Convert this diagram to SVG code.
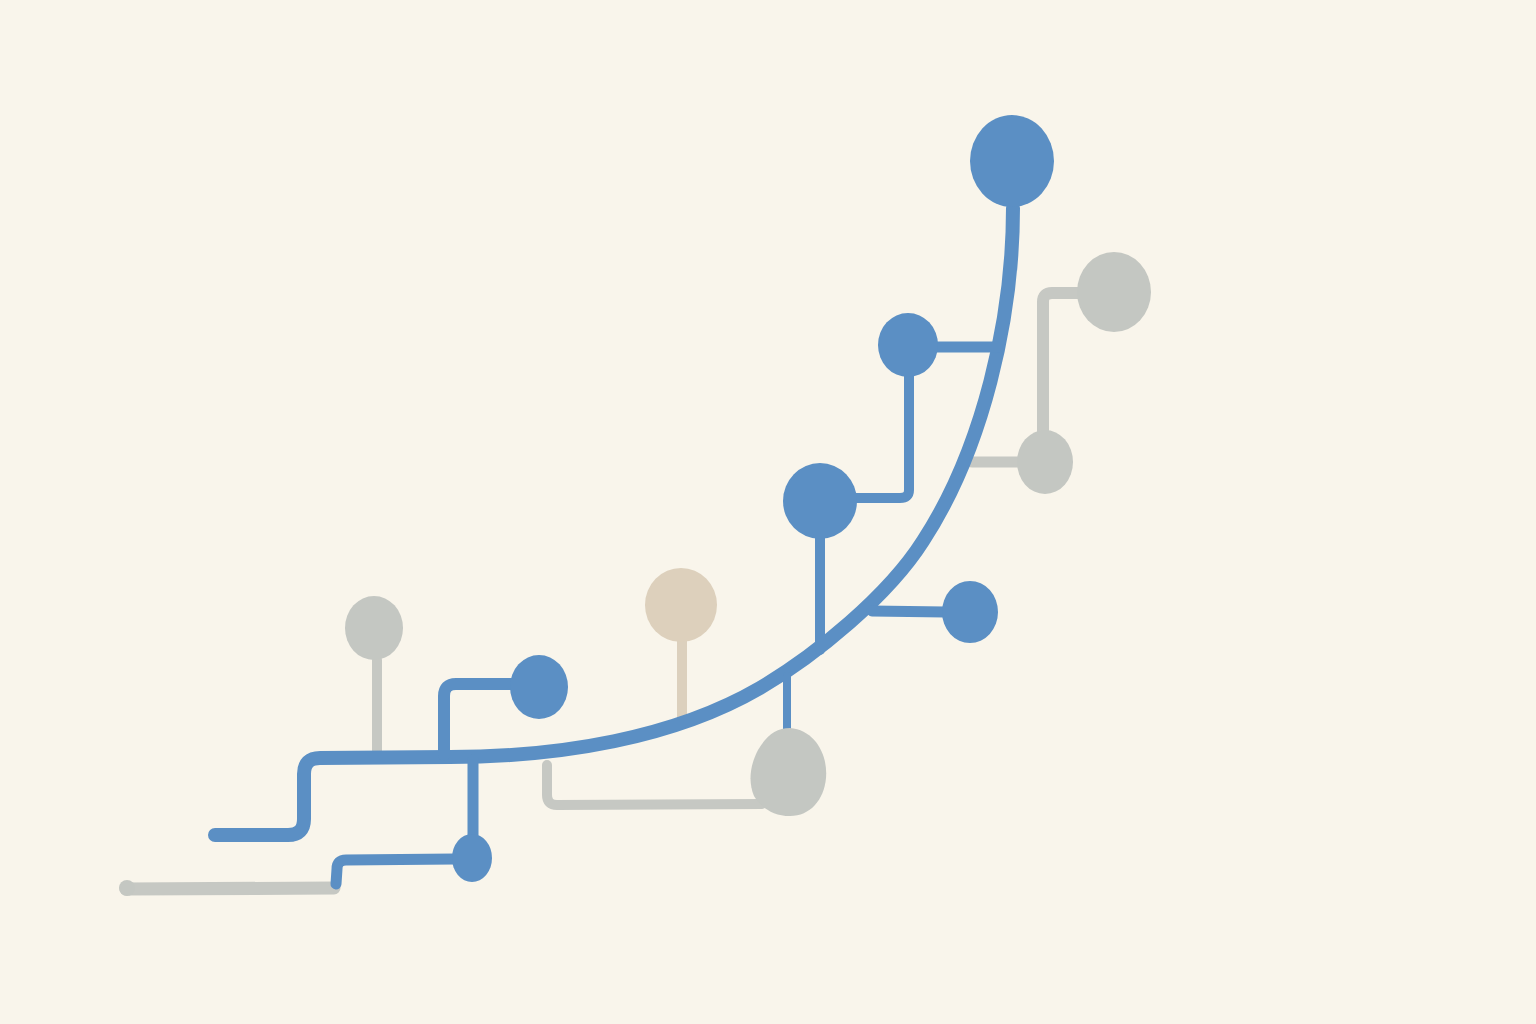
<svg xmlns="http://www.w3.org/2000/svg" width="1536" height="1024" viewBox="0 0 1536 1024">
<style>
.bl{fill:none;stroke:#5B8FC4;stroke-linecap:round;stroke-linejoin:round}
.gl{fill:none;stroke:#C6C8C3;stroke-linecap:round;stroke-linejoin:round}
.tl{fill:none;stroke:#DCD0BD;stroke-linecap:round}
.bn{fill:#5B8FC4}
.gn{fill:#C4C7C2}
.tn{fill:#DDD0BC}
</style>
<rect width="1536" height="1024" fill="#F9F5EB"/>
<g id="connectors">
<path class="gl" stroke-width="13" d="M126,889 L334,888"/>
<circle class="gn" cx="127" cy="888" r="8"/>
<path class="gl" stroke-width="10" d="M377,660 L377,752"/>
<path class="tl" stroke-width="10" d="M682,640 L682,724"/>
<path class="gl" stroke-width="10" d="M547,765 L547,795 Q547,805 557,805 L762,804"/>
<path class="gl" stroke-width="12" d="M1080,293 L1052,293 Q1043,293 1043,302 L1043,432"/>
<path class="gl" stroke-width="11" d="M972,462 L1018,462"/>
<path class="bl" stroke-width="14" d="M215,835 L288,835 Q304,835 304,819 L304,774 Q304,758 320,758 L450,757 C560,757 674,738 760,688 C816,655 888,596 923,541 C983,449 1013,318 1013,208"/>
<path class="bl" stroke-width="12" d="M444,755 L444,696 Q444,684 456,684 L515,684"/>
<path class="bl" stroke-width="11" d="M473,760 L473,840"/>
<path class="bl" stroke-width="11" d="M455,859 L346,860 Q337,860 337,869 L336,884"/>
<path class="bl" stroke-width="8" d="M787,676 L787,735"/>
<path class="bl" stroke-width="10" d="M820,535 L820,650"/>
<path class="bl" stroke-width="11" d="M872,611 L945,612"/>
<path class="bl" stroke-width="10" d="M909,375 L909,490 Q909,498 900,498 L852,498"/>
<path class="bl" stroke-width="11" d="M935,347 L997,347"/>
</g>
<g id="n1"><ellipse class="gn" cx="374" cy="628" rx="29" ry="32"/></g>
<g id="n2"><ellipse class="bn" cx="539" cy="687" rx="29" ry="32"/></g>
<g id="n3"><ellipse class="bn" cx="472" cy="858" rx="20" ry="24"/></g>
<g id="n4"><ellipse class="tn" cx="681" cy="605" rx="36" ry="37"/></g>
<g id="n5"><path class="gn" d="M790,728 C815,730 828,755 826,778 C824,800 810,816 790,816 C772,816 760,806 754,796 C748,782 750,765 758,750 C766,736 776,728 790,728 Z"/></g>
<g id="n6"><ellipse class="bn" cx="970" cy="612" rx="28" ry="31"/></g>
<g id="n7"><ellipse class="bn" cx="820" cy="501" rx="37" ry="38"/></g>
<g id="n8"><ellipse class="bn" cx="908" cy="345" rx="30" ry="32"/></g>
<g id="n9"><ellipse class="gn" cx="1045" cy="462" rx="28" ry="32"/></g>
<g id="n10"><ellipse class="gn" cx="1114" cy="292" rx="37" ry="40"/></g>
<g id="n11"><ellipse class="bn" cx="1012" cy="161" rx="42" ry="46"/></g>
</svg>
